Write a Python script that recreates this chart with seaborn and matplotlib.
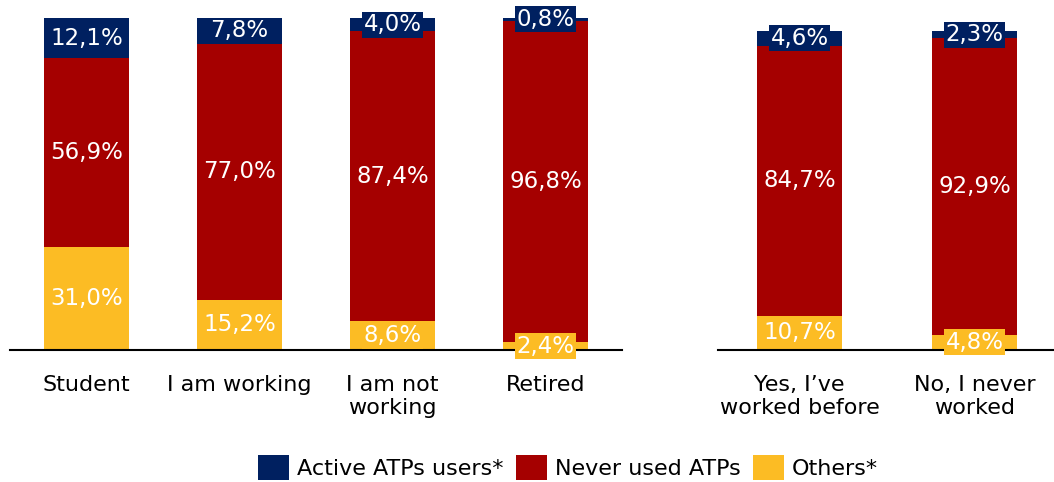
import numpy as np
import pandas as pd
import matplotlib.pyplot as plt
import seaborn as sns
from matplotlib.patches import Patch

# Data (percent)
left_cats = ['Student', 'I am working', 'I am not\nworking', 'Retired']
left_active = [12.1, 7.8, 4.0, 0.8]
left_never = [56.9, 77.0, 87.4, 96.8]
left_others = [31.0, 15.2, 8.6, 2.4]

right_cats = ['Yes, I\u2019ve\nworked before', 'No, I never\nworked']
right_active = [4.6, 2.3]
right_never = [84.7, 92.9]
right_others = [10.7, 4.8]

series_names = ['Active ATPs users*', 'Never used ATPs', 'Others*']
colors = ['#002060', '#A50000', '#FCBC24']

sns.set_style('white')
plt.rcParams['font.family'] = ['DejaVu Sans']
plt.rcParams['text.color'] = 'black'
plt.rcParams['xtick.color'] = 'black'

fig = plt.figure(figsize=(10.54, 4.82), dpi=100)
ax1 = fig.add_axes([10 / 1054, 132 / 482, 612 / 1054, 332 / 482])
ax2 = fig.add_axes([718 / 1054, 132 / 482, 336 / 1054, 319 / 482])


def stacked(ax, cats, active, never, others, width):
    df = pd.DataFrame({'cat': cats, 'active': active, 'never': never, 'others': others})
    df['top'] = df['active'] + df['never'] + df['others']
    df['mid'] = df['never'] + df['others']
    # draw back to front: total, never+others, others
    for col, c in zip(['top', 'mid', 'others'], colors):
        sns.barplot(data=df, x='cat', y=col, color=c, width=width, ax=ax,
                    saturation=1, edgecolor='none', linewidth=0)
    # labels
    for i, row in df.iterrows():
        segs = [(row['mid'] + row['active'] / 2, row['active'], colors[0]),
                (row['others'] + row['never'] / 2, row['never'], colors[1]),
                (row['others'] / 2, row['others'], colors[2])]
        for y, v, c in segs:
            ax.text(i, y, f'{v:.1f}%'.replace('.', ','), ha='center', va='center',
                    color='white', fontsize=16.5,
                    bbox=dict(facecolor=c, edgecolor='none', pad=1.0))
    ax.set_ylim(0, 100)
    ax.set_xlabel('')
    ax.set_ylabel('')
    ax.set_yticks([])
    ax.tick_params(axis='x', length=0, labelsize=16, pad=18, labelcolor='black')
    for s in ['top', 'right', 'left']:
        ax.spines[s].set_visible(False)
    ax.spines['bottom'].set_color('black')
    ax.spines['bottom'].set_linewidth(1.5)


stacked(ax1, left_cats, left_active, left_never, left_others, 0.556)
ax1.set_xlim(-0.5, 3.5)
stacked(ax2, right_cats, right_active, right_never, right_others, 0.486)
ax2.set_xlim(-0.466, 1.454)

handles = [Patch(facecolor=c, edgecolor='none') for c in colors]
fig.legend(handles, series_names, loc='center', bbox_to_anchor=(0.539, 0.03),
           ncol=3, frameon=False, fontsize=16, handlelength=1.4, handleheight=1.4,
           handletextpad=0.35, columnspacing=0.55, labelcolor='black')

fig.savefig('out.png', dpi=100)
